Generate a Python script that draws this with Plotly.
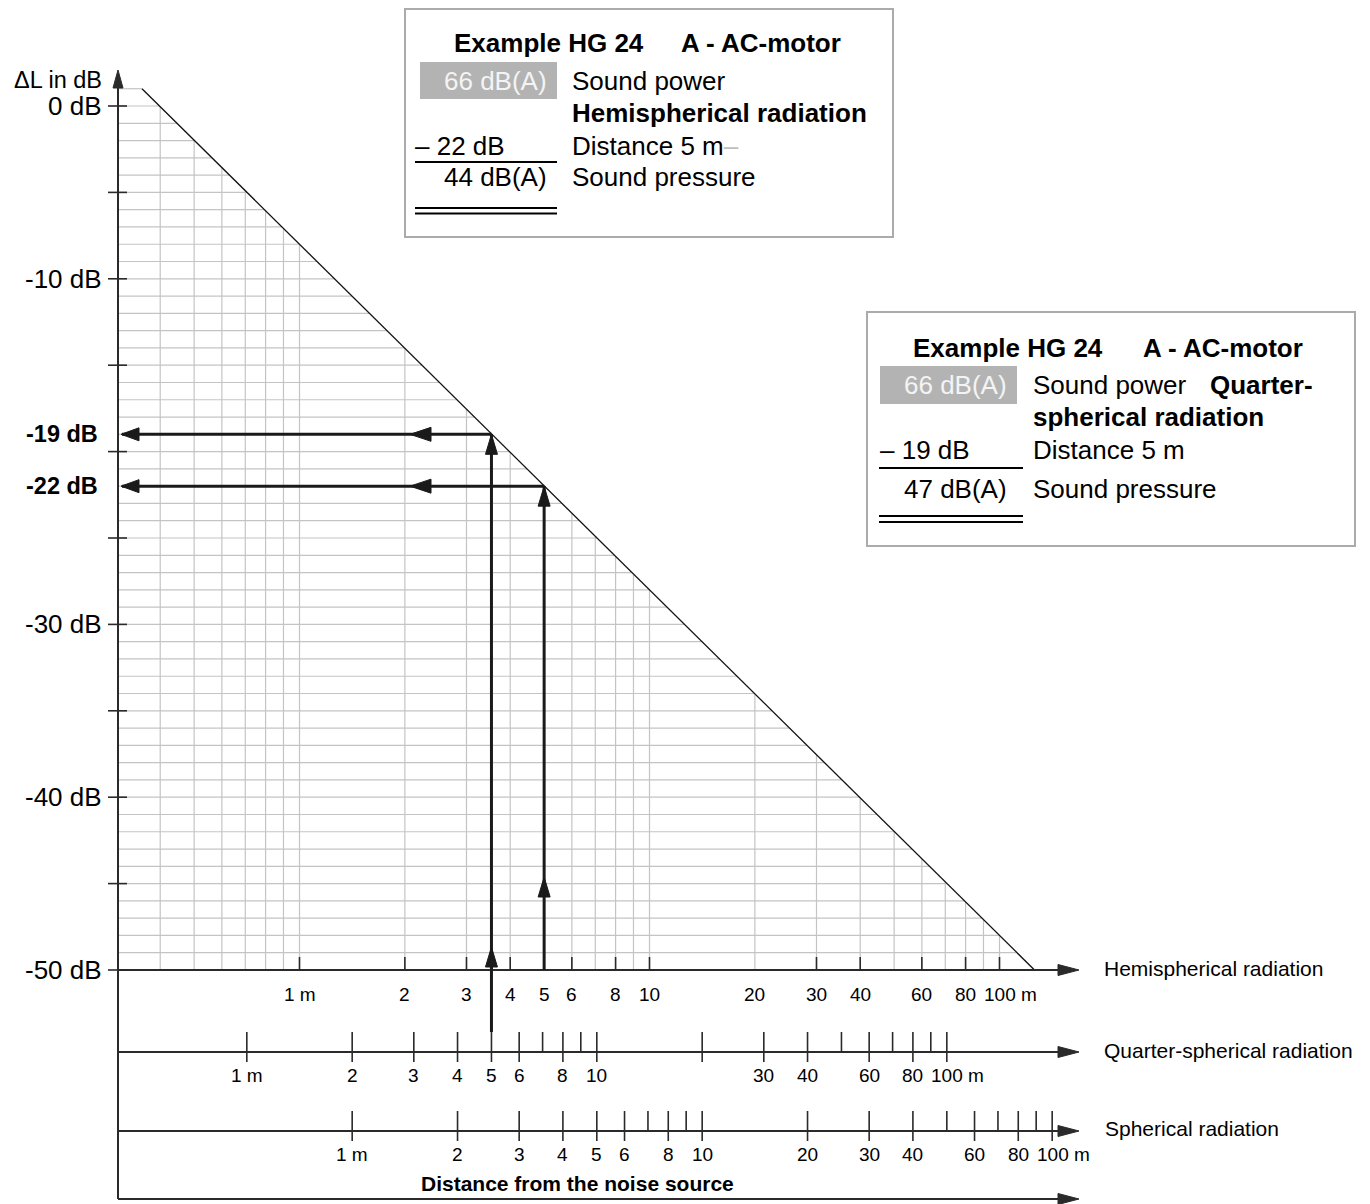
import numpy as np
import plotly.graph_objects as go

# ---------------- data ----------------
# vertical grid lines of the nomogram, hemispherical distance in m
HEMI_GRID_R = [0.4, 0.5, 0.6, 0.7, 0.8, 0.9, 1, 2, 3, 4, 5, 6, 7, 8, 9, 10,
               20, 30, 40, 50, 60, 70, 80, 90, 100]
HEMI_TICKS = [1, 2, 3, 4, 5, 6, 8, 10, 30, 40, 60, 80, 100]
HEMI_LABELS = [1, 2, 3, 4, 5, 6, 8, 10, 20, 30, 40, 60, 80, 100]
QUARTER_MAJOR = [1, 2, 3, 4, 5, 6, 8, 10, 20, 30, 40, 60, 80, 100]
QUARTER_MINOR = [7, 9, 50, 70, 90]
QUARTER_LABELS = [1, 2, 3, 4, 5, 6, 8, 10, 30, 40, 60, 80, 100]
SPH_MAJOR = [1, 2, 3, 4, 5, 6, 8, 10, 20, 30, 40, 60, 80, 100]
SPH_MINOR = [7, 9, 50, 70, 90]
SPH_LABELS = [1, 2, 3, 4, 5, 6, 8, 10, 20, 30, 40, 60, 80, 100]
DB_TICKS = [0, -5, -10, -15, -20, -25, -30, -35, -40, -45, -50]
DB_LABELED = [0, -10, -30, -40, -50]
GRID_DB = list(range(1, -50, -1))          # horizontal grid lines, 1 dB apart
DIAG_DB = [1, -50]                          # extent of the attenuation line
HEMI_DL_AT_1M = -8                          # ΔL = -8 dB - 20·log r (hemispherical)
QUARTER_FACTOR = 1 / np.sqrt(2)             # quarter-spherical scale shift (+3 dB)
SPH_FACTOR = np.sqrt(2)                     # spherical scale shift (-3 dB)
SOUND_POWER = 66
EXAMPLE_DIST = 5
HEMI_EXAMPLE_DL = -22
QUARTER_EXAMPLE_DL = -19

# ---------------- page geometry ----------------
# the page body has an 8 px margin, so the figure is drawn 8 px smaller and
# every reference pixel position is shifted by that margin
PAGE_OFF = 8
W, H = 1370 - PAGE_OFF, 1204 - PAGE_OFF
PX_1M, PX_DEC = 299.5 - PAGE_OFF, 350.0     # x pixel of 1 m (hemispherical), px per decade
PY_0DB, PX_PER_DB = 106.0 - PAGE_OFF, 17.28  # y pixel of 0 dB, px per dB
FONT = "Liberation Sans, Arial, sans-serif"
DARK = "#2a2a2a"
GRID = "#c4c4c4"


def xu(px):
    """reference page x pixel -> data x (log10 of hemispherical distance)"""
    return (px - PAGE_OFF - PX_1M) / PX_DEC


def ydb(py):
    """reference page y pixel -> data y (dB)"""
    return (PY_0DB - (py - PAGE_OFF)) / PX_PER_DB


def hx(r):
    return float(np.log10(r))


def line_db(u):
    return HEMI_DL_AT_1M - 20 * u


def u_of_db(d):
    return (HEMI_DL_AT_1M - d) / 20.0


X_AXIS_LEFT = xu(118)
X_AXIS_RIGHT = xu(1062)
Y_QUARTER = ydb(1052)
Y_SPH = ydb(1131)
Y_BOTTOM = ydb(1199)
Y_TOP = ydb(86)

fig = go.Figure()
shapes = []
annotations = []


def add_segments(segs, color, width):
    xs, ys = [], []
    for (x0, y0, x1, y1) in segs:
        xs += [x0, x1, None]
        ys += [y0, y1, None]
    fig.add_trace(go.Scatter(x=xs, y=ys, mode="lines",
                             line=dict(color=color, width=width),
                             hoverinfo="skip", showlegend=False))


def arrowhead(tx, ty, direction, length=20, width=12, color="#1a1a1a"):
    dx = length / PX_DEC
    dy = length / PX_PER_DB
    hw_x = width / 2 / PX_DEC
    hw_y = width / 2 / PX_PER_DB
    if direction == "up":
        pts = [(tx, ty), (tx - hw_x, ty - dy), (tx + hw_x, ty - dy)]
    elif direction == "left":
        pts = [(tx, ty), (tx + dx, ty + hw_y), (tx + dx, ty - hw_y)]
    else:  # right
        pts = [(tx, ty), (tx - dx, ty + hw_y), (tx - dx, ty - hw_y)]
    path = "M{},{} L{},{} L{},{} Z".format(*[v for p in pts for v in p])
    shapes.append(dict(type="path", xref="x", yref="y", path=path,
                       fillcolor=color, line=dict(color=color, width=1)))


def px_paper(px, py):
    return (px - PAGE_OFF) / W, 1 - (py - PAGE_OFF) / H


def txt(x, y, text, size, anchor="center", color="black", bold=False,
        paper=True, xshift=0):
    if bold:
        text = "<b>" + text + "</b>"
    if paper:
        xx, yy = px_paper(x, y)
        xr, yr = "paper", "paper"
    else:
        xx, yy, xr, yr = x, y, "x", "y"
    annotations.append(dict(x=xx, y=yy, xref=xr, yref=yr, text=text,
                            showarrow=False, xanchor=anchor, yanchor="middle",
                            xshift=xshift,
                            font=dict(family=FONT, size=size, color=color)))


def rect(x0, y0, x1, y1, line_color=None, fill=None, lw=2):
    a0, b0 = px_paper(x0, y0)
    a1, b1 = px_paper(x1, y1)
    shapes.append(dict(type="rect", xref="paper", yref="paper",
                       x0=a0, x1=a1, y0=b0, y1=b1,
                       line=dict(color=line_color or "rgba(0,0,0,0)",
                                 width=lw if line_color else 0),
                       fillcolor=fill or "rgba(0,0,0,0)", layer="below"))


def hline_px(x0, x1, y, color="black", width=2):
    a0, b = px_paper(x0, y)
    a1, _ = px_paper(x1, y)
    shapes.append(dict(type="line", xref="paper", yref="paper",
                       x0=a0, x1=a1, y0=b, y1=b,
                       line=dict(color=color, width=width)))


# ---------------- grid ----------------
grid = []
for d in GRID_DB:
    grid.append((X_AXIS_LEFT, d, u_of_db(d), d))
for r in HEMI_GRID_R:
    u = hx(r)
    grid.append((u, -50, u, min(line_db(u), 1)))
add_segments(grid, GRID, 1.2)

# attenuation line
add_segments([(u_of_db(DIAG_DB[0]), DIAG_DB[0], u_of_db(DIAG_DB[1]), DIAG_DB[1])],
             "#111111", 1.3)

# ---------------- axes ----------------
axes = [
    (X_AXIS_LEFT, Y_BOTTOM, X_AXIS_LEFT, Y_TOP),        # vertical ΔL axis
    (X_AXIS_LEFT, -50, X_AXIS_RIGHT, -50),               # hemispherical
    (X_AXIS_LEFT, Y_QUARTER, X_AXIS_RIGHT, Y_QUARTER),   # quarter-spherical
    (X_AXIS_LEFT, Y_SPH, X_AXIS_RIGHT, Y_SPH),           # spherical
    (X_AXIS_LEFT, Y_BOTTOM, X_AXIS_RIGHT, Y_BOTTOM),     # distance
]
add_segments(axes, DARK, 2)
for yy in [-50, Y_QUARTER, Y_SPH, Y_BOTTOM]:
    arrowhead(xu(1079), yy, "right", length=21, width=11, color=DARK)
arrowhead(X_AXIS_LEFT, ydb(70), "up", length=18, width=10, color=DARK)

# y ticks
ticks = [(xu(108), d, xu(127), d) for d in DB_TICKS]
# hemispherical ticks (above the axis only)
ticks += [(hx(r), -50, hx(r), -50 + 13 / PX_PER_DB) for r in HEMI_TICKS]
# quarter-spherical
for r in QUARTER_MAJOR:
    u = hx(r * QUARTER_FACTOR)
    ticks.append((u, Y_QUARTER - 10 / PX_PER_DB, u, Y_QUARTER + 20 / PX_PER_DB))
for r in QUARTER_MINOR:
    u = hx(r * QUARTER_FACTOR)
    ticks.append((u, Y_QUARTER, u, Y_QUARTER + 20 / PX_PER_DB))
# spherical
for r in SPH_MAJOR:
    u = hx(r * SPH_FACTOR)
    ticks.append((u, Y_SPH - 10 / PX_PER_DB, u, Y_SPH + 20 / PX_PER_DB))
for r in SPH_MINOR:
    u = hx(r * SPH_FACTOR)
    ticks.append((u, Y_SPH, u, Y_SPH + 20 / PX_PER_DB))
add_segments(ticks, DARK, 1.6)

# ---------------- example arrows ----------------
u_h = hx(EXAMPLE_DIST)
u_q = hx(EXAMPLE_DIST * QUARTER_FACTOR)
arrows = [
    (u_h, -50, u_h, HEMI_EXAMPLE_DL),
    (u_h, HEMI_EXAMPLE_DL, xu(122), HEMI_EXAMPLE_DL),
    (u_q, ydb(1032), u_q, QUARTER_EXAMPLE_DL),
    (u_q, QUARTER_EXAMPLE_DL, xu(122), QUARTER_EXAMPLE_DL),
]
add_segments(arrows, "#1a1a1a", 3)
for u, dl, mid_py in [(u_h, HEMI_EXAMPLE_DL, 877), (u_q, QUARTER_EXAMPLE_DL, 947)]:
    arrowhead(u, dl, "up")
    arrowhead(u, ydb(mid_py), "up")
    arrowhead(xu(410), dl, "left", length=21, width=14)
    arrowhead(xu(121), dl, "left", length=18, width=13)

# ---------------- labels ----------------
for d in DB_LABELED:
    txt(104, 106 - d * PX_PER_DB, f"{d} dB", 26, anchor="right")
for d in [QUARTER_EXAMPLE_DL, HEMI_EXAMPLE_DL]:
    txt(100, 106 - d * PX_PER_DB, f"{d} dB", 23.5, anchor="right", bold=True)
txt(104, 80, "ΔL in dB", 23.5, anchor="right")


def dist_label(r):
    return f"{r} m" if r in (1, 100) else f"{r}"


def label_shift(r):
    return 11 if r == 100 else 0


for r in HEMI_LABELS:
    txt(hx(r), ydb(994), dist_label(r), 19, paper=False, xshift=label_shift(r))
for r in QUARTER_LABELS:
    txt(hx(r * QUARTER_FACTOR), ydb(1075), dist_label(r), 19, paper=False,
        xshift=label_shift(r))
for r in SPH_LABELS:
    txt(hx(r * SPH_FACTOR), ydb(1154), dist_label(r), 19, paper=False,
        xshift=label_shift(r))

txt(1102, 968, "Hemispherical radiation", 21, anchor="left")
txt(1102, 1050, "Quarter-spherical radiation", 21, anchor="left")
txt(1103, 1128, "Spherical radiation", 21, anchor="left")
txt(577, 1183, "Distance from the noise source", 21, bold=True)

# ---------------- example boxes ----------------
BOX = 26
# box 1: hemispherical
rect(405, 9, 893, 237, line_color="#ababab", fill="white")
txt(452, 43, "Example HG 24", BOX, anchor="left", bold=True)
txt(679, 43, "A - AC-motor", BOX, anchor="left", bold=True)
rect(420, 62, 557, 99, fill="#b3b3b3")
txt(549, 81, f"{SOUND_POWER} dB(A)", BOX, anchor="right", color="#f4f4f4")
txt(570, 81, "Sound power", BOX, anchor="left")
txt(570, 113, "Hemispherical radiation", BOX, anchor="left", bold=True)
txt(413, 146, f"– {abs(HEMI_EXAMPLE_DL)} dB", BOX, anchor="left")
txt(570, 146, f"Distance {EXAMPLE_DIST} m<span style='color:#bdbdbd'>–</span>",
    BOX, anchor="left")
hline_px(415, 557, 162)
txt(549, 177, f"{SOUND_POWER + HEMI_EXAMPLE_DL} dB(A)", BOX, anchor="right")
txt(570, 177, "Sound pressure", BOX, anchor="left")
hline_px(415, 557, 208)
hline_px(415, 557, 213.5)

# box 2: quarter-spherical
rect(867, 312, 1355, 546, line_color="#ababab", fill="white")
txt(911, 348, "Example HG 24", BOX, anchor="left", bold=True)
txt(1141, 348, "A - AC-motor", BOX, anchor="left", bold=True)
rect(880, 366, 1017, 404, fill="#b3b3b3")
txt(1009, 385, f"{SOUND_POWER} dB(A)", BOX, anchor="right", color="#f4f4f4")
txt(1031, 385, "Sound power", BOX, anchor="left")
txt(1208, 385, "Quarter-", BOX, anchor="left", bold=True)
txt(1031, 417, "spherical radiation", BOX, anchor="left", bold=True)
txt(878, 450, f"– {abs(QUARTER_EXAMPLE_DL)} dB", BOX, anchor="left")
txt(1031, 450, f"Distance {EXAMPLE_DIST} m", BOX, anchor="left")
hline_px(879, 1023, 468)
txt(1009, 489, f"{SOUND_POWER + QUARTER_EXAMPLE_DL} dB(A)", BOX, anchor="right")
txt(1031, 489, "Sound pressure", BOX, anchor="left")
hline_px(879, 1023, 516)
hline_px(879, 1023, 522)

fig.update_layout(
    width=W, height=H,
    margin=dict(l=0, r=0, t=0, b=0),
    paper_bgcolor="white", plot_bgcolor="white",
    xaxis=dict(range=[xu(PAGE_OFF), xu(PAGE_OFF + W)], visible=False, fixedrange=True),
    yaxis=dict(range=[ydb(PAGE_OFF + H), ydb(PAGE_OFF)], visible=False, fixedrange=True),
    shapes=shapes, annotations=annotations,
    showlegend=False, hovermode=False,
    font=dict(family=FONT),
)

fig.write_html("out.html")
